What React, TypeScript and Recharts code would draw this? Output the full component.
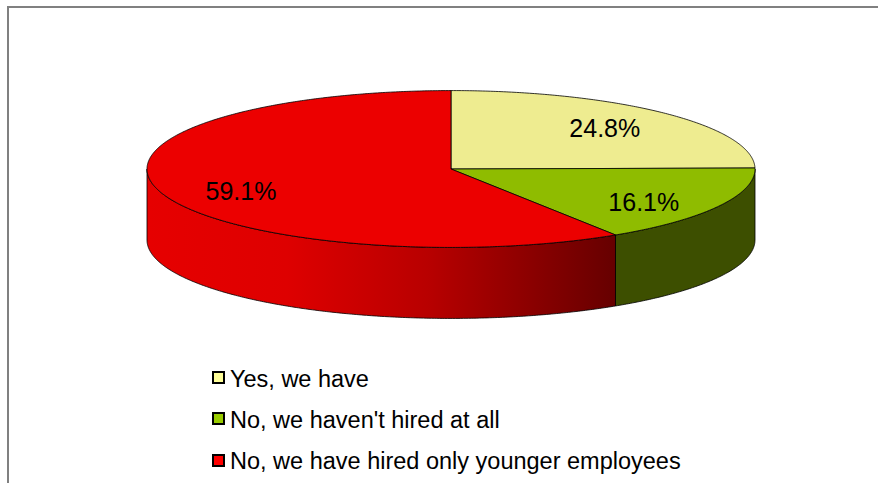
import React from 'react';
import { PieChart, Pie, Legend } from 'recharts';

const categories = ['Yes, we have', "No, we haven't hired at all", 'No, we have hired only younger employees'];
const shares = [24.8, 16.1, 59.1];
const topColors = ['#EEEC90', '#8FBC00', '#EC0000'];
const sideColors = ['#B5B35A', '#3D4F00', 'url(#redSide)'];
const legendColors = ['#FFFF99', '#99CC00', '#FF0000'];

const data = categories.map((name, i) => ({
  name,
  value: shares[i],
  fill: topColors[i],
  side: sideColors[i],
  legend: legendColors[i],
}));

const TILT = 0.258;
const DEPTH = 71;
const RAD = Math.PI / 180;
const FONT = '"Liberation Sans", Arial, Helvetica, sans-serif';

function pt(cx: number, cy: number, rx: number, ry: number, deg: number, dy = 0): [number, number] {
  return [cx + rx * Math.cos(deg * RAD), cy - ry * Math.sin(deg * RAD) + dy];
}

function arcPts(cx: number, cy: number, rx: number, ry: number, from: number, to: number, dy = 0) {
  const n = Math.max(2, Math.ceil(Math.abs(to - from) * 2));
  const out: [number, number][] = [];
  for (let i = 0; i <= n; i++) {
    const a = from + ((to - from) * i) / n;
    out.push(pt(cx, cy, rx, ry, a, dy));
  }
  return out;
}

const toPath = (pts: [number, number][]) =>
  pts.map((p, i) => `${i === 0 ? 'M' : 'L'}${p[0].toFixed(2)},${p[1].toFixed(2)}`).join(' ') + ' Z';

const SliceShape = (props: any) => {
  const { cx, cy, outerRadius, startAngle, endAngle, fill } = props;
  const side = props.side ?? props.payload?.side ?? '#333';
  const rx = outerRadius;
  const ry = outerRadius * TILT;
  const lo = Math.min(startAngle, endAngle);
  const hi = Math.max(startAngle, endAngle);
  const sides: [number, number][] = [];
  for (let k = -2; k <= 2; k++) {
    const a = Math.max(lo, -180 + 360 * k);
    const b = Math.min(hi, 360 * k);
    if (b > a) sides.push([a, b]);
  }
  const topPts: [number, number][] = [[cx, cy], ...arcPts(cx, cy, rx, ry, startAngle, endAngle)];
  return (
    <g>
      <defs>
        <linearGradient id="redSide" gradientUnits="userSpaceOnUse" x1={cx - rx} y1={0} x2={cx + rx * 0.54} y2={0}>
          <stop offset="0" stopColor="#E60000" />
          <stop offset="0.3" stopColor="#DE0000" />
          <stop offset="0.6" stopColor="#B80000" />
          <stop offset="1" stopColor="#660000" />
        </linearGradient>
      </defs>
      {sides.map(([a, b], i) => {
        const pts = [...arcPts(cx, cy, rx, ry, a, b), ...arcPts(cx, cy, rx, ry, b, a, DEPTH)];
        return <path key={i} d={toPath(pts)} fill={side} stroke="#000" strokeWidth={0.8} strokeLinejoin="round" />;
      })}
      <path d={toPath(topPts)} fill={fill} stroke="#000" strokeWidth={0.8} strokeLinejoin="round" />
    </g>
  );
};

const renderLabel = (props: any) => {
  const { cx, cy, midAngle, outerRadius, value } = props;
  const rx = outerRadius * 0.72;
  const ry = outerRadius * TILT * 0.74;
  const x = cx + rx * Math.cos(midAngle * RAD);
  const lower = Math.sin(midAngle * RAD) < 0;
  const y = cy - ry * Math.sin(midAngle * RAD) + (lower ? 6 : 0);
  return (
    <text x={x} y={y + 9} textAnchor="middle" fontFamily={FONT} fontSize={25} fill="#000">
      {`${Number(value).toFixed(1)}%`}
    </text>
  );
};

const LegendContent = (props: any) => {
  const payload = [...(props.payload || [])].sort(
    (a: any, b: any) => categories.indexOf(a.value) - categories.indexOf(b.value)
  );
  return (
    <div style={{ fontFamily: FONT, fontSize: 23.5, color: '#000' }}>
      {payload.map((p: any, i: number) => (
        <div key={i} style={{ position: 'relative', height: 41.4 }}>
          <span
            style={{
              position: 'absolute',
              left: 0,
              top: 5.3,
              width: 13,
              height: 13,
              boxSizing: 'border-box',
              border: '2px solid #000',
              background: p.payload?.legend ?? legendColors[categories.indexOf(p.value)],
            }}
          />
          <span style={{ position: 'absolute', left: 18, top: 0, lineHeight: 'normal', whiteSpace: 'nowrap' }}>
            {p.value}
          </span>
        </div>
      ))}
    </div>
  );
};

export default function App() {
  return (
    <div style={{ position: 'fixed', left: 0, top: 0, width: 878, height: 483, overflow: 'hidden', background: '#fff' }}>
      <div
        style={{
          position: 'absolute',
          left: 7,
          top: 6,
          width: 1000,
          height: 1000,
          border: '2px solid #808080',
        }}
      />
      <div style={{ position: 'absolute', left: 0, top: 0 }}>
        <PieChart width={878} height={483} margin={{ top: 0, right: 0, bottom: 0, left: 0 }}>
          <Pie
            data={data}
            dataKey="value"
            nameKey="name"
            cx={451}
            cy={169}
            outerRadius={304}
            startAngle={90}
            endAngle={-270}
            isAnimationActive={false}
            label={renderLabel}
            labelLine={false}
            activeShape={SliceShape}
            inactiveShape={SliceShape}
            {...({ shape: SliceShape } as any)}
          />
          <Legend
            layout="vertical"
            align="center"
            verticalAlign="middle"
            content={LegendContent}
            wrapperStyle={{ left: 212, top: 365.7, width: 640, height: 130 }}
          />
        </PieChart>
      </div>
    </div>
  );
}
